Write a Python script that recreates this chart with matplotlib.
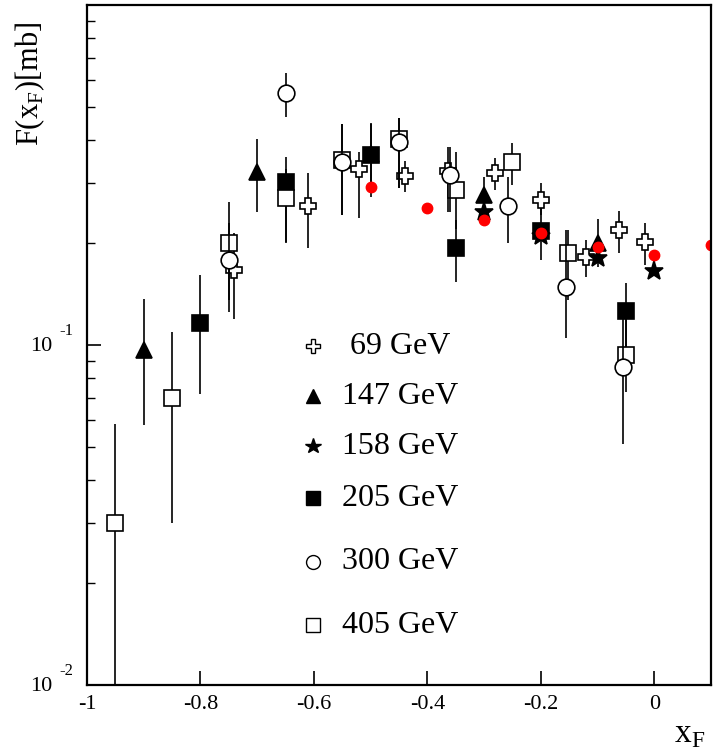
import numpy as np
import matplotlib.pyplot as plt

plt.rcParams['font.family'] = ['Liberation Serif', 'DejaVu Serif']
plt.rcParams['mathtext.fontset'] = 'custom'
plt.rcParams['mathtext.rm'] = 'Liberation Serif'

# 69 GeV (open cross)
x69 = [-0.74, -0.61, -0.52, -0.44, -0.363, -0.28, -0.20, -0.12, -0.062, -0.016]
y69 = [0.166, 0.256, 0.330, 0.314, 0.325, 0.321, 0.267, 0.181, 0.218, 0.201]
lo69 = [0.119, 0.193, 0.236, 0.282, 0.246, 0.286, 0.241, 0.158, 0.187, 0.172]
hi69 = [0.213, 0.321, 0.370, 0.348, 0.382, 0.355, 0.299, 0.204, 0.248, 0.229]

# 147 GeV (filled triangle)
x147 = [-0.90, -0.70, -0.50, -0.30, -0.10]
y147 = [0.0967, 0.323, 0.365, 0.276, 0.200]
lo147 = [0.058, 0.246, 0.29, 0.245, 0.170]
hi147 = [0.137, 0.403, 0.45, 0.312, 0.235]

# 158 GeV (star)
x158 = [-0.30, -0.20, -0.10, 0.0]
y158 = [0.246, 0.209, 0.180, 0.165]

# 205 GeV (filled square)
x205 = [-0.80, -0.65, -0.50, -0.35, -0.20, -0.05]
y205 = [0.116, 0.302, 0.362, 0.193, 0.216, 0.126]
lo205 = [0.0718, 0.201, 0.272, 0.153, 0.178, 0.098]
hi205 = [0.161, 0.357, 0.447, 0.233, 0.253, 0.152]

# 300 GeV (open circle)
x300 = [-0.75, -0.65, -0.55, -0.45, -0.36, -0.257, -0.155, -0.055]
y300 = [0.178, 0.551, 0.345, 0.396, 0.317, 0.256, 0.148, 0.0862]
lo300 = [0.136, 0.469, 0.241, 0.29, 0.246, 0.200, 0.105, 0.051]
hi300 = [0.229, 0.631, 0.447, 0.466, 0.382, 0.312, 0.218, 0.125]

# 405 GeV (open square)
x405 = [-0.951, -0.851, -0.75, -0.65, -0.55, -0.45, -0.35, -0.25, -0.152, -0.05]
y405 = [0.0299, 0.0699, 0.200, 0.270, 0.350, 0.403, 0.285, 0.345, 0.187, 0.0935]
lo405 = [0.005, 0.0299, 0.125, 0.200, 0.241, 0.29, 0.220, 0.296, 0.136, 0.0727]
hi405 = [0.0586, 0.109, 0.263, 0.330, 0.447, 0.466, 0.370, 0.393, 0.218, 0.120]

# unlabeled red points
xred = [-0.5, -0.4, -0.3, -0.2, -0.1, 0.0, 0.1]
yred = [0.291, 0.253, 0.233, 0.213, 0.194, 0.184, 0.197]

fig = plt.figure(figsize=(7.13, 7.52), dpi=100)
ax = fig.add_axes([87/713, 67/752, 624/713, 680/752])

def draw(x, y, lo, hi, marker, ms, face):
    y = np.array(y)
    if lo is not None:
        err = [y - np.array(lo), np.array(hi) - y]
        ax.errorbar(x, y, yerr=err, fmt='none', ecolor='black', elinewidth=1.2, capsize=0)
    ax.plot(x, y, linestyle='none', marker=marker, ms=ms, mfc=face, mec='black', mew=1.2)

draw(x69, y69, lo69, hi69, 'P', 12, 'white')
draw(x147, y147, lo147, hi147, '^', 11, 'black')
draw(x158, y158, None, None, '*', 14, 'black')
draw(x205, y205, lo205, hi205, 's', 11, 'black')
draw(x405, y405, lo405, hi405, 's', 11, 'white')
draw(x300, y300, lo300, hi300, 'o', 12, 'white')
ax.plot(xred, yred, linestyle='none', marker='o', ms=7.5, color='red')

ax.set_yscale('log')
ax.set_xlim(-1, 0.1)
ax.set_ylim(0.01, 1.0)

ax.set_xticks([-1, -0.8, -0.6, -0.4, -0.2, 0])
ax.set_xticklabels(['-1', '-0.8', '-0.6', '-0.4', '-0.2', '0'], fontsize=16)
ax.set_yticks([0.01, 0.1])
ax.set_yticklabels(['', ''])
ax.tick_params(axis='both', which='major', direction='in', length=10, width=1.2, top=False, right=False)
ax.tick_params(axis='y', which='minor', direction='in', length=6, width=1.0, right=False)
ax.tick_params(axis='x', which='major', pad=7)
for s in ax.spines.values():
    s.set_linewidth(1.6)

# y tick labels: 10 with exponent
for v, e in zip([0.01, 0.1], ['-2', '-1']):
    ax.annotate('10', xy=(0, v), xycoords=('axes fraction', 'data'), xytext=(-25, -1),
                textcoords='offset points', ha='right', va='center', fontsize=16)
    ax.annotate(e, xy=(0, v), xycoords=('axes fraction', 'data'), xytext=(-10, 10),
                textcoords='offset points', ha='right', va='center', fontsize=12)

fig.text(30/713, 1 - 84/752, r'F(x$_{\mathrm{F}}$)[mb]', rotation=90, ha='center', va='center', fontsize=22)
fig.text(690/713, 1 - 735/752, r'x$_{\mathrm{F}}$', ha='center', va='center', fontsize=24)

# legend
leg = [('P', 10, 'white', '69 GeV', 0.421),
       ('^', 10, 'black', '147 GeV', 0.408),
       ('*', 11.5, 'black', '158 GeV', 0.408),
       ('s', 10, 'black', '205 GeV', 0.408),
       ('o', 10, 'white', '300 GeV', 0.408),
       ('s', 10, 'white', '405 GeV', 0.408)]
rows = [0.4985, 0.425, 0.351, 0.275, 0.181, 0.088]
for (m, ms, fc, lab, tx), ry in zip(leg, rows):
    ax.plot([0.362], [ry], transform=ax.transAxes, marker=m, ms=ms, mfc=fc, mec='black', mew=1.0,
            linestyle='none', clip_on=False)
    ax.text(tx, ry, lab, transform=ax.transAxes, ha='left', va='center', fontsize=23)

fig.savefig('out.png', dpi=100)
